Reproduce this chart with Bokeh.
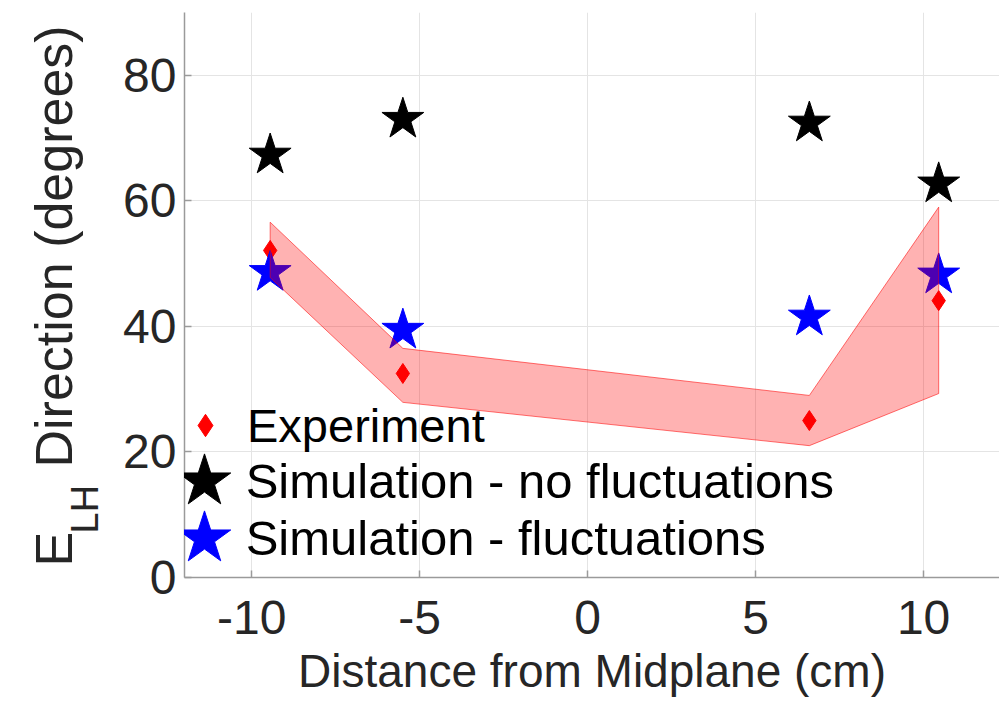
import math

from bokeh.plotting import figure
from bokeh.layouts import row
from bokeh.models import Range1d, Legend, LegendItem, Label, FixedTicker
from bokeh.embed import file_html
from bokeh.resources import INLINE

# Probe positions (cm from the midplane) and measured / simulated directions (degrees)
distance_cm = [-9.45, -5.5, 6.6, 10.45]
experiment_deg = [52.1, 32.5, 25.0, 44.1]
sim_no_fluct_deg = [67.3, 73.0, 72.4, 62.7]
sim_fluct_deg = [48.6, 39.4, 41.5, 48.2]
# Experimental uncertainty band
band_upper_deg = [56.6, 36.5, 29.0, 59.0]
band_lower_deg = [47.8, 27.9, 21.0, 29.3]

x_ticks = [-10, -5, 0, 5, 10]
y_ticks = [0, 20, 40, 60, 80]
x_tick_labels = {-10: "-10", -5: "-5", 0: "0", 5: "5", 10: "10"}

FONT = "Liberation Sans"
TEXT = "#262626"
AXIS = "#9a9a9a"
TITLE_W = 110      # width of the strip that carries the vertical axis title
BORDER_TOP = 12
BORDER_BOTTOM = 127
HEIGHT = 704

p = figure(
    width=999 - TITLE_W, height=HEIGHT,
    output_backend="svg", toolbar_location=None,
    x_range=Range1d(-12, 12.26), y_range=Range1d(0, 90),
    min_border_left=184 - TITLE_W, min_border_right=0,
    min_border_top=BORDER_TOP, min_border_bottom=BORDER_BOTTOM,
)
p.outline_line_color = None
p.background_fill_color = "white"
p.border_fill_color = "white"

p.xaxis.ticker = FixedTicker(ticks=x_ticks)
p.yaxis.ticker = FixedTicker(ticks=y_ticks)
p.xaxis.major_label_overrides = x_tick_labels
for ax in (p.xaxis[0], p.yaxis[0]):
    ax.axis_line_color = AXIS
    ax.axis_line_width = 1.5
    ax.major_tick_line_color = AXIS
    ax.major_tick_line_width = 1.5
    ax.major_tick_in = 7
    ax.major_tick_out = 0
    ax.minor_tick_line_color = None
    ax.major_label_text_font = FONT
    ax.major_label_text_font_size = "48px"
    ax.major_label_text_color = TEXT
p.xaxis.major_label_standoff = 23
p.yaxis.major_label_standoff = 8

p.xaxis.axis_label = "Distance from Midplane (cm)"
p.xaxis.axis_label_text_font = FONT
p.xaxis.axis_label_text_font_size = "46px"
p.xaxis.axis_label_text_font_style = "normal"
p.xaxis.axis_label_text_color = TEXT
p.xaxis.axis_label_standoff = 8

p.grid.grid_line_color = "#e4e4e4"
p.grid.grid_line_width = 1

r_exp = p.scatter(distance_cm, experiment_deg, marker="diamond", size=20,
                  fill_color="red", line_color="red")
r_nof = p.scatter(distance_cm, sim_no_fluct_deg, marker="star", size=44,
                  fill_color="black", line_color="black")
r_fl = p.scatter(distance_cm, sim_fluct_deg, marker="star", size=44,
                 fill_color="blue", line_color="blue")

# Shaded band over the markers
band_x = distance_cm + distance_cm[::-1]
band_y = band_upper_deg + band_lower_deg[::-1]
p.patch(band_x, band_y, fill_color="red", fill_alpha=0.3,
        line_color="red", line_alpha=0.55, line_width=1)

common = dict(
    label_text_font=FONT, label_text_font_size="47px", label_text_color="black",
    background_fill_alpha=0, border_line_color=None,
    padding=0, margin=0, inactive_fill_alpha=0, spacing=0,
)
p.add_layout(Legend(
    items=[LegendItem(label="Experiment", renderers=[r_exp])],
    location=(-7, 122), glyph_width=56, glyph_height=60, label_height=60,
    label_standoff=14, **common,
))
# Large star symbols need their own legend boxes; their captions are set as labels
p.add_layout(Legend(
    items=[LegendItem(label="", renderers=[r_nof])],
    location=(-49, 27), glyph_width=138, glyph_height=138, label_height=138,
    label_standoff=0, **common,
))
p.add_layout(Legend(
    items=[LegendItem(label="", renderers=[r_fl])],
    location=(-49, -30), glyph_width=138, glyph_height=138, label_height=138,
    label_standoff=0, **common,
))


def text_at(fig, text, x, y, size, angle=0.0, color="black"):
    fig.add_layout(Label(
        x=x, y=y, x_units="data", y_units="data", text=text,
        angle=angle, text_font=FONT, text_font_size=size,
        text_color=color, text_align="left", text_baseline="alphabetic",
    ))


text_at(p, "Simulation - no fluctuations", -10.18, 15.45, "49px")
text_at(p, "Simulation - fluctuations", -10.18, 6.37, "49px")

# Narrow strip holding the vertical axis title (E with subscript LH).
# Its frame lines up with the main frame, so its y range is in page pixels
# measured upward from the bottom of the page.
title_strip = figure(
    width=TITLE_W, height=HEIGHT,
    output_backend="svg", toolbar_location=None,
    x_range=Range1d(0, TITLE_W),
    y_range=Range1d(BORDER_BOTTOM, HEIGHT - BORDER_TOP),
    x_axis_location=None, y_axis_location=None,
    min_border=0, min_border_top=BORDER_TOP, min_border_bottom=BORDER_BOTTOM,
)
title_strip.outline_line_color = None
title_strip.grid.visible = False
title_strip.background_fill_color = "white"
title_strip.border_fill_color = "white"

text_at(title_strip, "E", 53, 138, "52px", math.pi / 2, TEXT)
text_at(title_strip, "LH", 84, 171, "38px", math.pi / 2, TEXT)
text_at(title_strip, "Direction (degrees)", 53, 237, "52px", math.pi / 2, TEXT)

open("out.html", "w").write(file_html(row(title_strip, p), INLINE))
